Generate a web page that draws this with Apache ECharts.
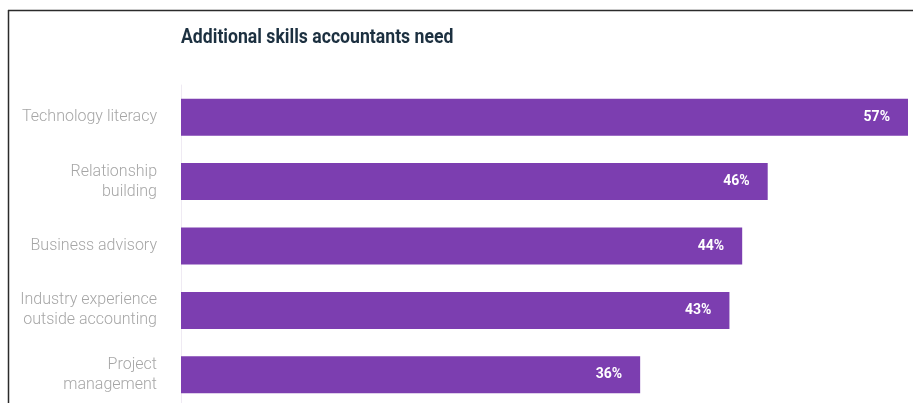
<!DOCTYPE html>
<html>
<head>
<meta charset="utf-8">
<script src="https://cdn.jsdelivr.net/npm/echarts@6/dist/echarts.min.js"></script>
<style>
  html, body { margin: 0; padding: 0; background: #ffffff; }
  #chart { width: 913px; height: 403px; }
</style>
</head>
<body>
<div id="chart"></div>
<script>
// Skills named by respondents, top to bottom
const skills = [
  'Technology literacy',
  'Relationship\nbuilding',
  'Business advisory',
  'Industry experience\noutside accounting',
  'Project\nmanagement'
];
// Share of respondents (%)
const shares = [57, 46, 44, 43, 36];
const chartTitle = 'Additional skills accountants need';

const chart = echarts.init(document.getElementById('chart'));

chart.setOption({
  backgroundColor: '#ffffff',
  animation: false,
  grid: {
    left: 181,
    top: 85,
    width: 727,
    height: 322,
    outerBoundsMode: 'none',
    containLabel: false
  },
  xAxis: {
    type: 'value',
    min: 0,
    max: 57,
    show: false
  },
  yAxis: {
    type: 'category',
    inverse: true,
    data: skills,
    axisLine: { show: true, lineStyle: { color: '#efeaf3', width: 1 } },
    axisTick: { show: false },
    splitLine: { show: false },
    axisLabel: {
      margin: 24,
      align: 'right',
      color: '#a6a6a6',
      fontFamily: 'Roboto',
      fontWeight: 300,
      fontSize: 16,
      lineHeight: 20
    }
  },
  series: [{
    type: 'bar',
    data: shares,
    barWidth: 37,
    itemStyle: { color: '#7c3eb0' },
    label: {
      show: true,
      position: 'insideRight',
      distance: 18,
      formatter: '{c}%',
      color: '#ffffff',
      fontFamily: 'Roboto',
      fontWeight: 'bold',
      fontSize: 14
    }
  }],
  graphic: [
    {
      // condensed heading
      type: 'text',
      x: 181,
      y: 27,
      scaleX: 0.84,
      style: {
        text: chartTitle,
        font: 'bold 21px Roboto',
        fill: '#1c3040'
      }
    },
    {
      type: 'line',
      shape: { x1: 8, y1: 10.5, x2: 913, y2: 10.5 },
      style: { stroke: '#2b2b2b', lineWidth: 1.5 }
    },
    {
      type: 'line',
      shape: { x1: 8.5, y1: 10, x2: 8.5, y2: 403 },
      style: { stroke: '#2b2b2b', lineWidth: 1.5 }
    }
  ]
});
</script>
</body>
</html>
